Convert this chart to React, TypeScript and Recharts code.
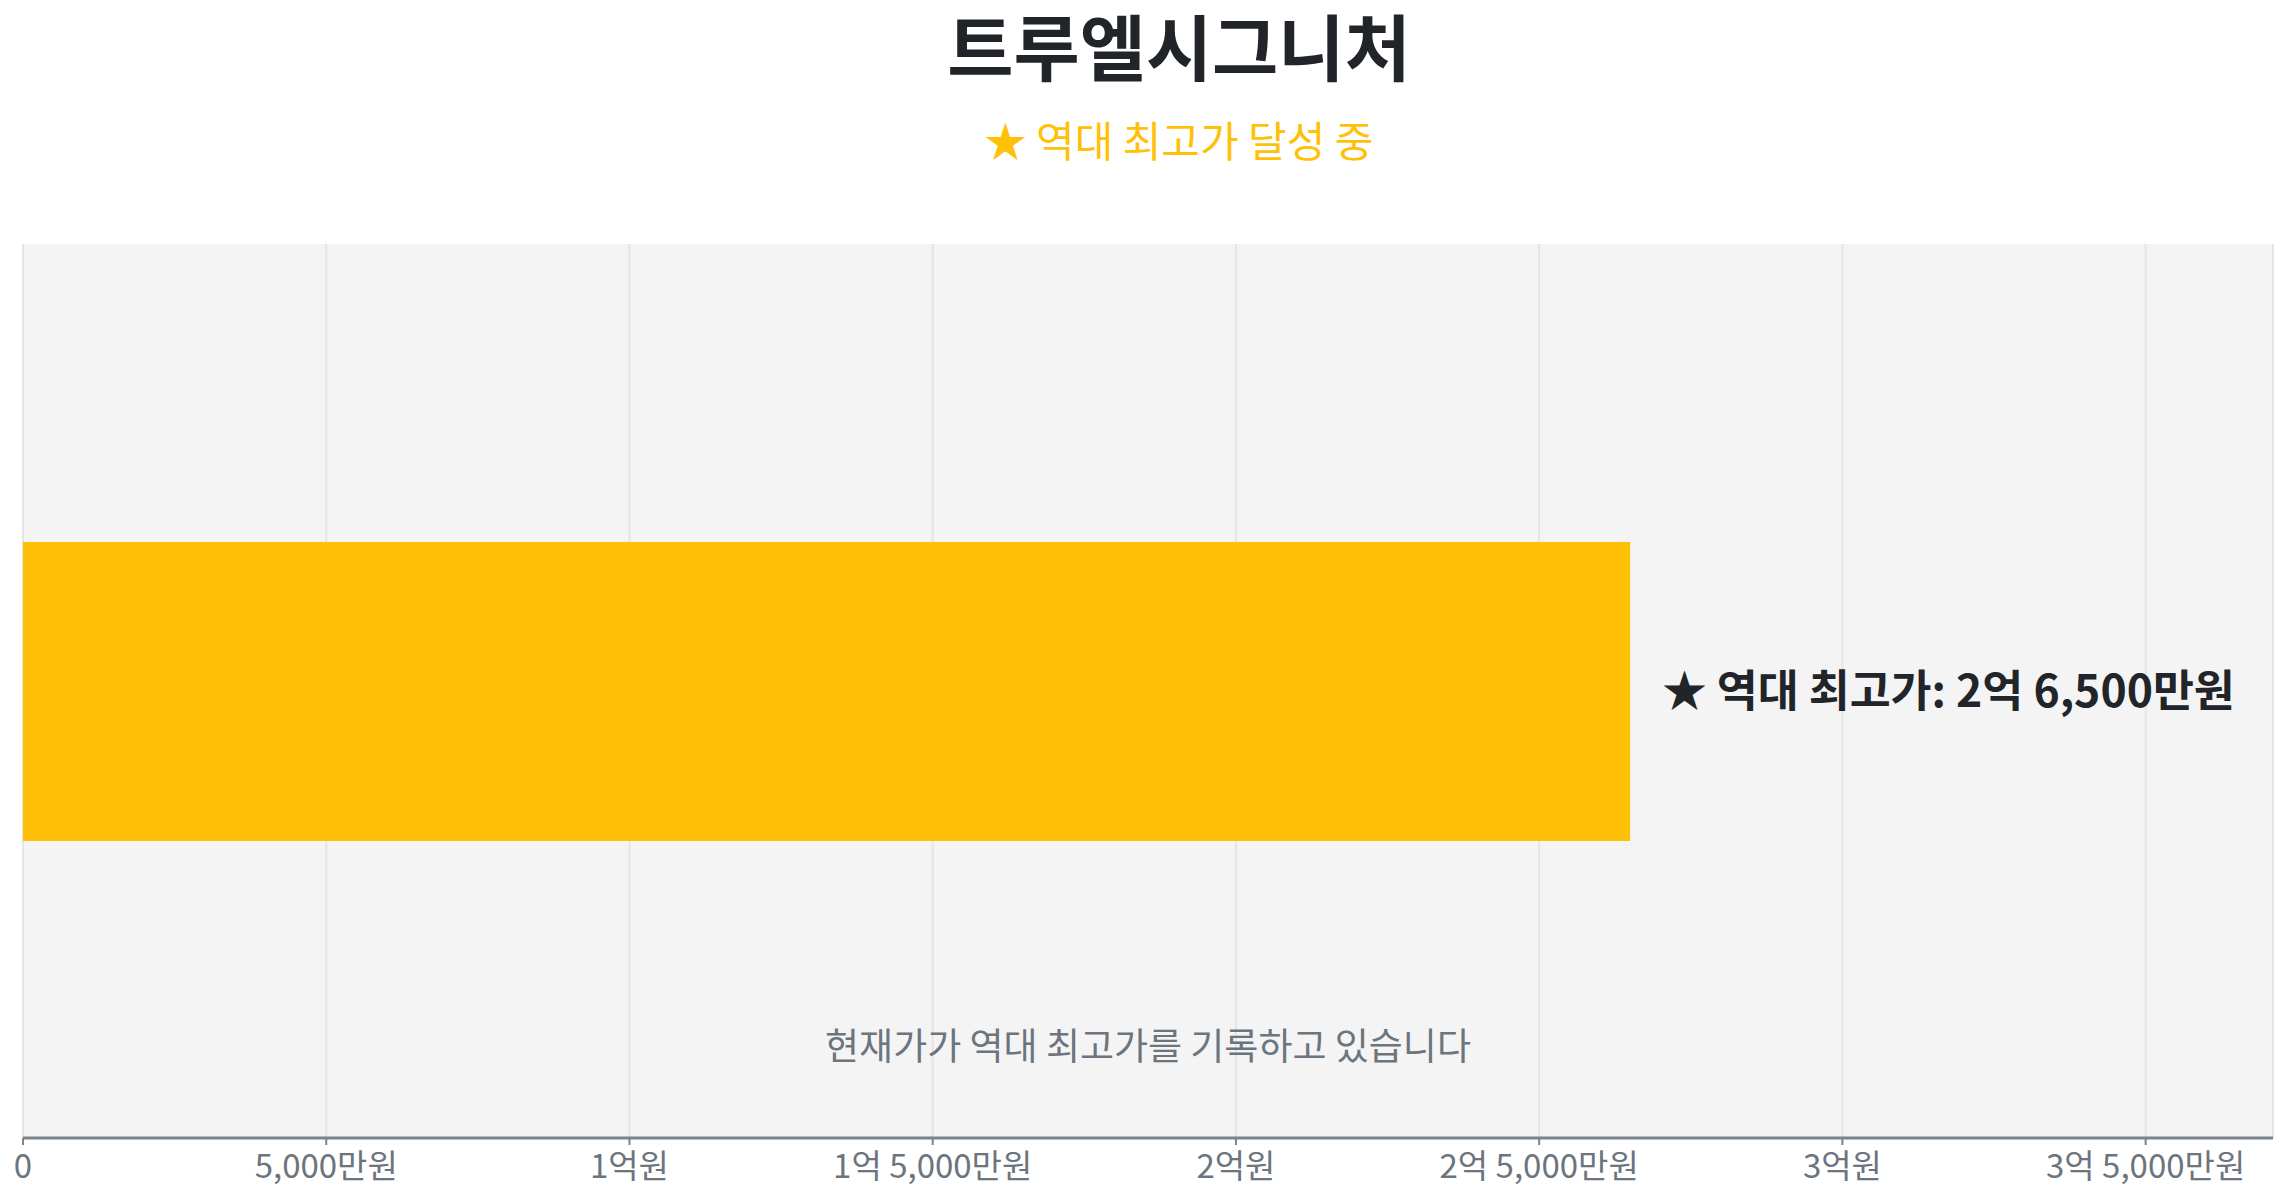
import React from "react";
import {
  Bar,
  BarChart,
  CartesianGrid,
  LabelList,
  XAxis,
  YAxis,
} from "recharts";

const categories = ["트루엘시그니처"];
const highPrices = [26500]; // 만원
const xTicks = [0, 5000, 10000, 15000, 20000, 25000, 30000, 35000];

const TITLE = "트루엘시그니처";
const SUBTITLE = "★ 역대 최고가 달성 중";
const NOTE = "현재가가 역대 최고가를 기록하고 있습니다";

const data = categories.map((name, i) => ({ name, high: highPrices[i] }));

const FONT = '"Noto Sans CJK KR", "Noto Sans", sans-serif';
const AMBER = "#FFC107";
const DARK = "#212529";
const MUTED = "#6c757d";

function formatWon(v: number): string {
  if (v === 0) return "0";
  const eok = Math.floor(v / 10000);
  const man = v % 10000;
  if (eok === 0) return `${man.toLocaleString("en-US")}만원`;
  if (man === 0) return `${eok}억원`;
  return `${eok}억 ${man.toLocaleString("en-US")}만원`;
}

export default function App() {
  return (
    <div
      style={{
        position: "absolute",
        left: 0,
        top: 0,
        width: 2287,
        height: 1200,
        background: "#fff",
        fontFamily: FONT,
      }}
    >
      <div
        style={{
          position: "absolute",
          left: 1179 - 600,
          width: 1200,
          top: 6,
          textAlign: "center",
          fontSize: 72,
          fontWeight: 700,
          color: DARK,
          lineHeight: "76px",
        }}
      >
        {TITLE}
      </div>
      <div
        style={{
          position: "absolute",
          left: 1179 - 600,
          width: 1200,
          top: 114,
          textAlign: "center",
          fontSize: 42,
          color: AMBER,
          lineHeight: "50px",
        }}
      >
        {SUBTITLE}
      </div>

      <BarChart
        width={2287}
        height={1200}
        data={data}
        layout="vertical"
        margin={{ top: 244, right: 14, left: 23, bottom: 32 }}
        style={{ position: "absolute", left: 0, top: 0 }}
      >
        <CartesianGrid
          horizontal={false}
          stroke="#e5e5e5"
          strokeWidth={2}
          fill="#f4f4f4"
        />
        <XAxis
          type="number"
          domain={[0, highPrices[0] * 1.4]}
          ticks={xTicks}
          tickFormatter={formatWon}
          axisLine={{ stroke: "#7b838c", strokeWidth: 3 }}
          tickLine={{ stroke: "#7b838c", strokeWidth: 2 }}
          tickSize={7}
          tickMargin={10}
          tick={{ fill: MUTED, fontSize: 33, fontFamily: FONT }}
          allowDataOverflow
        />
        <YAxis
          type="category"
          dataKey="name"
          width={0}
          tick={false}
          tickLine={false}
          axisLine={{ stroke: "#7b838c", strokeWidth: 3 }}
        />
        <Bar dataKey="high" fill={AMBER} barSize={299} isAnimationActive={false}>
          <LabelList
            dataKey="high"
            position="right"
            offset={32}
            formatter={(v: number) => `★ 역대 최고가: ${formatWon(v)}`}
            style={{ fill: DARK, fontSize: 44.5, fontWeight: 700, fontFamily: FONT }}
          />
        </Bar>
      </BarChart>

      <div
        style={{
          position: "absolute",
          left: 1148 - 600,
          width: 1200,
          top: 1020,
          textAlign: "center",
          fontSize: 37,
          color: MUTED,
          lineHeight: "48px",
        }}
      >
        {NOTE}
      </div>
    </div>
  );
}
